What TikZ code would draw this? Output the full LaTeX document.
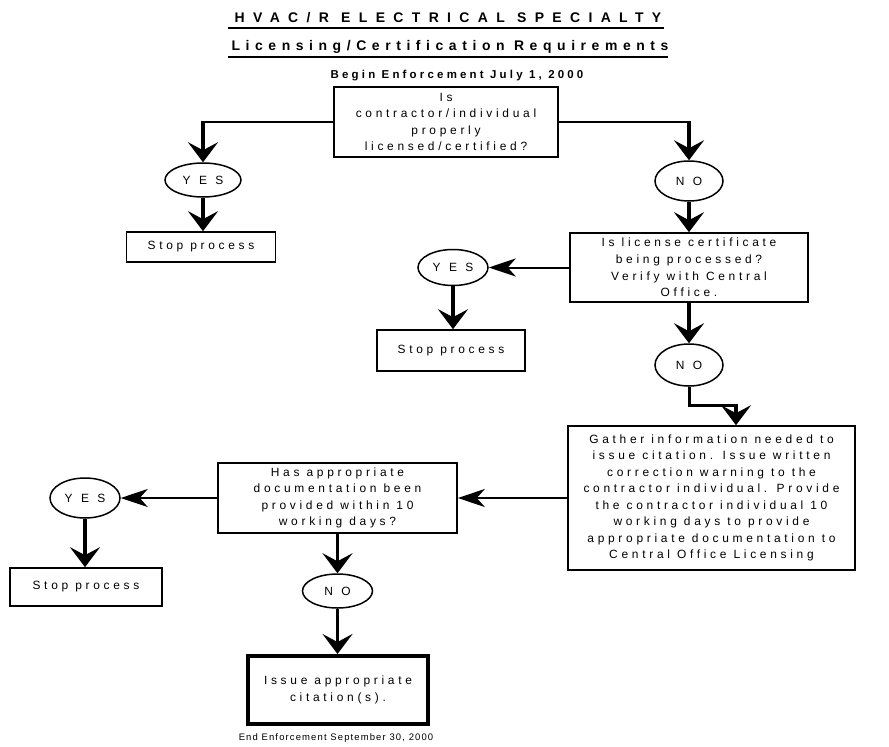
\documentclass[tikz,border=0pt]{standalone}
\usepackage{fontspec}
\setmainfont{Liberation Sans}
\newfontfamily\boxfont[LetterSpace=31]{Liberation Sans}
\newfontfamily\ovalfont[LetterSpace=70]{Liberation Sans}
\newfontfamily\titlefont[LetterSpace=60]{Liberation Sans}
\newfontfamily\subtitlefont[LetterSpace=40]{Liberation Sans}
\newfontfamily\beginfont[LetterSpace=28]{Liberation Sans}
\newfontfamily\endfont[LetterSpace=12]{Liberation Sans}
\usetikzlibrary{arrows.meta,shapes.geometric}
\tikzset{
  box/.style={draw, line width=1.6bp, align=center, inner sep=0pt,
    font=\boxfont\fontsize{12}{16.6}\selectfont},
  oval/.style={ellipse, draw, line width=1.5bp, inner sep=0pt,
    font=\ovalfont\fontsize{12}{14}\selectfont},
  varrow/.style={line width=3.5bp, -{Stealth[length=20bp,width=30bp,inset=8bp]}},
  harrow/.style={line width=2bp, -{Stealth[length=27bp,width=18bp,inset=8bp]}},
  hline/.style={line width=2bp},
  uline/.style={line width=1.5bp},
  plain/.style={inner sep=0pt}
}
\begin{document}
\begin{tikzpicture}[x=1bp,y=-1bp]
\useasboundingbox (0,0) rectangle (889,747);
% titles
\node[plain, font=\titlefont\bfseries\fontsize{14}{16}\selectfont] (t1) at (448,18) {HVAC/R ELECTRICAL SPECIALTY};
\node[plain, font=\subtitlefont\bfseries\fontsize{14}{16}\selectfont] (t2) at (450,47) {Licensing/Certification Requirements};
\draw[uline] (228,28) coordinate (u1a) -- (664,28) coordinate (u1b);
\draw[uline] (228,57) coordinate (u2a) -- (668,57) coordinate (u2b);
\node[plain, font=\beginfont\bfseries\fontsize{11.5}{13}\selectfont] (begin) at (457,76) {Begin Enforcement July 1, 2000};

% boxes
\node[box, minimum width=224bp, minimum height=70bp] (box1) at (446,122)
  {Is\\contractor/individual\\properly\\licensed/certified?};
\node[oval, minimum width=76bp, minimum height=34bp] (yes1) at (203,180) {YES};
\node[box, minimum width=149bp, minimum height=30bp] (stop1) at (201,247) {Stop process};
\node[oval, minimum width=68bp, minimum height=40bp] (no1) at (689,181) {NO};
\node[box, minimum width=238bp, minimum height=69bp] (box2) at (689,267.5)
  {Is license certificate\\being processed?\\Verify with Central\\Office.};
\node[oval, minimum width=70bp, minimum height=36bp] (yes2) at (453,267.5) {YES};
\node[box, minimum width=148bp, minimum height=41bp] (stop2) at (451,350.5) {Stop process};
\node[oval, minimum width=68bp, minimum height=42bp] (no2) at (689,365) {NO};
\node[box, minimum width=287bp, minimum height=144bp] (box3) at (711.5,498)
  {Gather information needed to\\issue citation. Issue written\\correction warning to the\\contractor individual. Provide\\the contractor individual 10\\working days to provide\\appropriate documentation to\\Central Office Licensing};
\node[box, minimum width=239bp, minimum height=70bp] (box4) at (337.5,498)
  {Has appropriate\\documentation been\\provided within 10\\working days?};
\node[oval, minimum width=70bp, minimum height=40bp] (yes3) at (85,498) {YES};
\node[box, minimum width=152bp, minimum height=38bp] (stop3) at (86,587) {Stop process};
\node[oval, minimum width=70bp, minimum height=34bp] (no3) at (337.5,591) {NO};
\node[box, line width=4bp, minimum width=180bp, minimum height=68bp] (fin) at (338,690)
  {Issue appropriate\\citation(s).};
\node[plain, font=\endfont\fontsize{9.5}{11}\selectfont] (end) at (336,738) {End Enforcement September 30, 2000};

% connectors
\coordinate (c1) at (yes1.north |- box1.west);
\draw[hline] (box1.west) -- (c1);
\draw[varrow] ([yshift=1bp]c1) -- (yes1.north);
\coordinate (c2) at (no1.north |- box1.east);
\draw[hline] (box1.east) -- (c2);
\draw[varrow] ([yshift=1bp]c2) -- (no1.north);
\draw[varrow] (yes1.south) -- (yes1.south |- stop1.north);
\draw[varrow] (no1.south) -- (no1.south |- box2.north);
\draw[harrow] (box2.west) -- (yes2.east);
\draw[varrow] (yes2.south) -- (yes2.south |- stop2.north);
\draw[varrow] (box2.south) -- (no2.north);
\coordinate (c6) at (736,405);
\coordinate (c5) at (no2.south |- c6);
\draw[line width=3bp, line join=miter] (no2.south) -- (c5) -- (c6);
\draw[varrow] ([yshift=1.5bp]c6) -- (c6 |- box3.north);
\draw[harrow] (box3.west) -- (box4.east);
\draw[harrow] (box4.west) -- (yes3.east);
\draw[varrow] (yes3.south) -- (yes3.south |- stop3.north);
\draw[varrow] (box4.south) -- (no3.north);
\draw[varrow] (no3.south) -- (no3.south |- fin.north);
\end{tikzpicture}
\end{document}
